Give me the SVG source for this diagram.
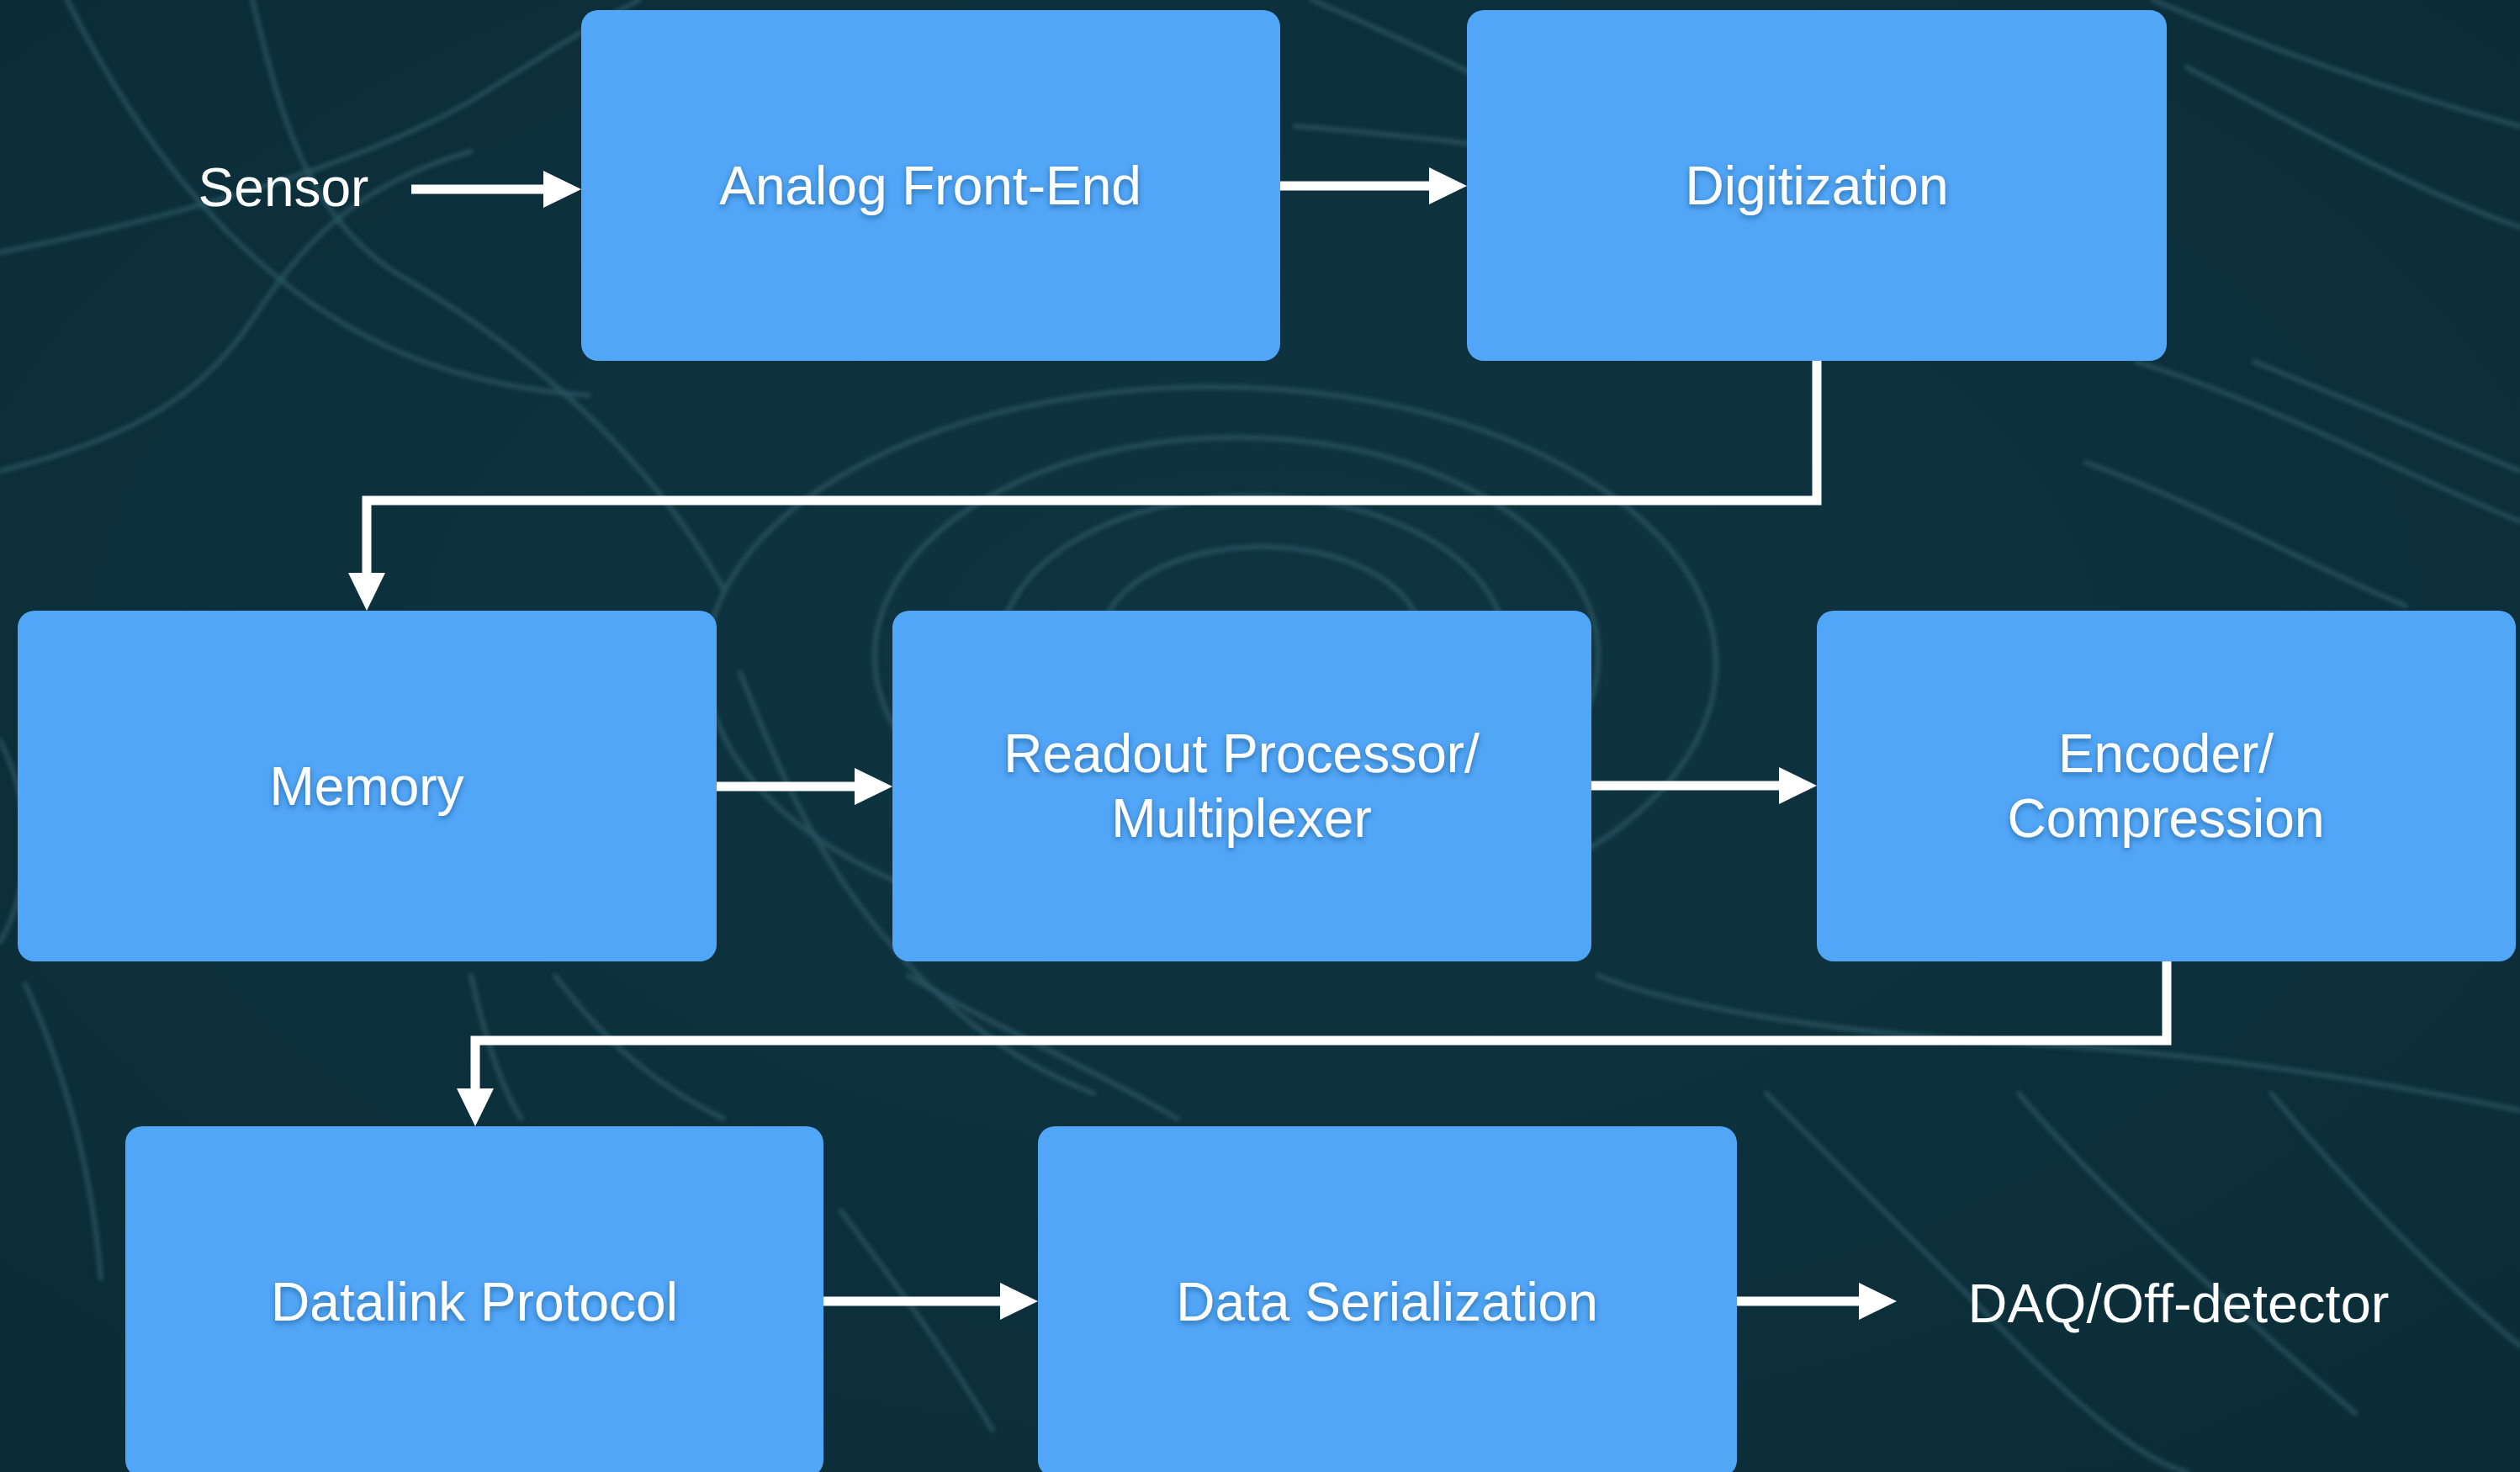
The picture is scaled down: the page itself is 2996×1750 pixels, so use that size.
<svg xmlns="http://www.w3.org/2000/svg" width="2996" height="1750" viewBox="0 0 2996 1750">
  <style>
    .box { fill: #52A6F8; }
    .label { font-family: "Liberation Sans", Arial, Helvetica, sans-serif; font-size: 64px; fill: #FFFFFF; text-anchor: middle; }
    .boxlabel { filter: url(#textShadow); }
    .wire { fill: none; stroke: #FFFFFF; stroke-width: 11; stroke-linejoin: miter; marker-end: url(#head); }
    .track { fill: none; stroke: #2C5866; stroke-width: 6; stroke-linecap: round; opacity: 0.7; }
  </style>
  <defs>
    <marker id="head" markerUnits="userSpaceOnUse" markerWidth="45" markerHeight="44" refX="0" refY="22" orient="auto" overflow="visible">
      <path d="M0,0 L45,22 L0,44 Z" fill="#FFFFFF"/>
    </marker>
    <filter id="textShadow" x="-10%" y="-30%" width="120%" height="160%">
      <feDropShadow dx="0" dy="3" stdDeviation="3.5" flood-color="#123C66" flood-opacity="0.55"/>
    </filter>
    <filter id="soft" x="-5%" y="-5%" width="110%" height="110%">
      <feGaussianBlur stdDeviation="2.5"/>
    </filter>
    <radialGradient id="bg" cx="50%" cy="45%" r="75%">
      <stop offset="0" stop-color="#0E3541"/>
      <stop offset="1" stop-color="#0B2C37"/>
    </radialGradient>
  </defs>

  <!-- background with faint particle tracks -->
  <rect x="0" y="0" width="2996" height="1750" fill="url(#bg)"/>
  <g id="tracks" filter="url(#soft)">
    <ellipse class="track" cx="1500" cy="760" rx="190" ry="110"/>
    <ellipse class="track" cx="1490" cy="770" rx="300" ry="180"/>
    <ellipse class="track" cx="1470" cy="780" rx="430" ry="260"/>
    <ellipse class="track" cx="1440" cy="790" rx="600" ry="330"/>
    <path class="track" d="M0,300 C200,260 420,200 560,120 C640,70 700,30 760,0"/>
    <path class="track" d="M0,560 C160,520 240,470 300,380 C360,290 420,220 560,180"/>
    <path class="track" d="M80,0 C140,120 220,240 330,330 C440,420 560,460 700,470"/>
    <path class="track" d="M300,0 C330,120 360,260 480,330 C600,400 760,520 860,700"/>
    <path class="track" d="M1560,0 C1700,60 1800,110 1900,170 C2050,260 2200,340 2400,380"/>
    <path class="track" d="M1540,150 C1800,170 2100,220 2400,260"/>
    <path class="track" d="M2560,0 C2700,60 2850,110 2996,150"/>
    <path class="track" d="M2600,80 C2750,160 2880,230 2996,270"/>
    <path class="track" d="M2540,430 C2700,480 2850,560 2996,620"/>
    <path class="track" d="M2480,550 C2620,600 2760,680 2860,720"/>
    <path class="track" d="M2680,430 C2800,480 2900,520 2996,560"/>
    <path class="track" d="M0,880 C40,960 40,1050 0,1120"/>
    <path class="track" d="M880,800 C920,900 960,1000 1040,1100 C1120,1200 1200,1260 1300,1300"/>
    <path class="track" d="M1080,1160 C1180,1220 1280,1260 1400,1330"/>
    <path class="track" d="M30,1170 C80,1280 110,1400 120,1520"/>
    <path class="track" d="M560,1160 C580,1250 600,1300 620,1330"/>
    <path class="track" d="M660,1160 C720,1240 780,1290 860,1330"/>
    <path class="track" d="M1900,1160 C2000,1200 2200,1230 2400,1240 C2600,1250 2800,1280 2996,1320"/>
    <path class="track" d="M2100,1300 C2200,1400 2300,1500 2400,1600 C2500,1700 2560,1740 2600,1750"/>
    <path class="track" d="M2400,1300 C2500,1420 2650,1550 2800,1680"/>
    <path class="track" d="M2700,1300 C2800,1420 2900,1520 2996,1600"/>
    <path class="track" d="M1000,1440 C1060,1520 1120,1600 1180,1700"/>
  </g>

  <!-- connectors -->
  <g id="connectors">
    <path class="wire" d="M489,225 H646"/>
    <path class="wire" d="M1522,221 H1699"/>
    <path class="wire" d="M2160,429 V595 H436 V681"/>
    <path class="wire" d="M852,935 H1016"/>
    <path class="wire" d="M1892,934 H2115"/>
    <path class="wire" d="M2576,1143 V1237 H565 V1294"/>
    <path class="wire" d="M979,1547 H1189"/>
    <path class="wire" d="M2065,1547 H2210"/>
  </g>

  <!-- endpoints -->
  <g id="sensor">
    <text class="label" x="337" y="245">Sensor</text>
  </g>
  <g id="daq">
    <text class="label" x="2590" y="1572" style="font-size:65px">DAQ/Off-detector</text>
  </g>

  <!-- processing blocks -->
  <g id="analog-front-end">
    <rect class="box" x="691" y="12" width="831" height="417" rx="20"/>
    <text class="label boxlabel" x="1106" y="243">Analog Front-End</text>
  </g>
  <g id="digitization">
    <rect class="box" x="1744" y="12" width="832" height="417" rx="20"/>
    <text class="label boxlabel" x="2160" y="243">Digitization</text>
  </g>
  <g id="memory">
    <rect class="box" x="21" y="726" width="831" height="417" rx="20"/>
    <text class="label boxlabel" x="436" y="957">Memory</text>
  </g>
  <g id="readout-processor">
    <rect class="box" x="1061" y="726" width="831" height="417" rx="20"/>
    <text class="label boxlabel" x="1476" y="918">Readout Processor/</text>
    <text class="label boxlabel" x="1476" y="995">Multiplexer</text>
  </g>
  <g id="encoder">
    <rect class="box" x="2160" y="726" width="831" height="417" rx="20"/>
    <text class="label boxlabel" x="2575" y="918">Encoder/</text>
    <text class="label boxlabel" x="2575" y="995">Compression</text>
  </g>
  <g id="datalink-protocol">
    <rect class="box" x="149" y="1339" width="830" height="417" rx="20"/>
    <text class="label boxlabel" x="564" y="1570">Datalink Protocol</text>
  </g>
  <g id="data-serialization">
    <rect class="box" x="1234" y="1339" width="831" height="417" rx="20"/>
    <text class="label boxlabel" x="1649" y="1570">Data Serialization</text>
  </g>
</svg>
